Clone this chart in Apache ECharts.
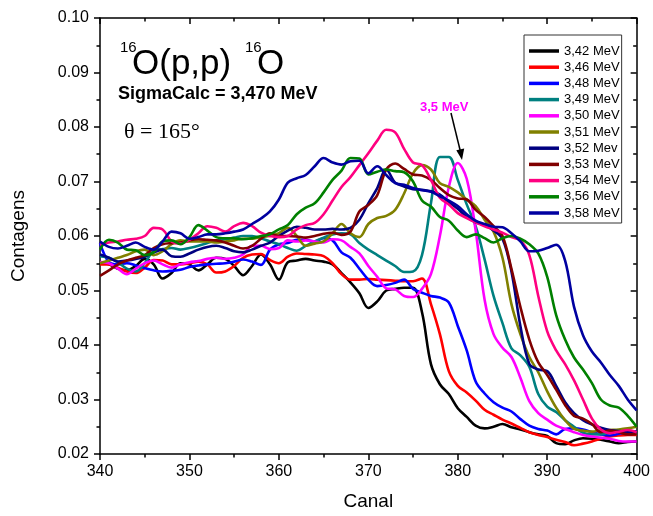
<!DOCTYPE html>
<html>
<head>
<meta charset="utf-8">
<script src="https://cdn.jsdelivr.net/npm/echarts@6/dist/echarts.min.js"></script>
<style>
html,body{margin:0;padding:0;background:#fff;}
#chart{width:653px;height:516px;}
</style>
</head>
<body>
<div id="chart"></div>
<script>
var channels = [340,341,342,343,344,345,346,347,348,349,350,351,352,353,354,355,356,357,358,359,360,361,362,363,364,365,366,367,368,369,370,371,372,373,374,375,376,377,378,379,380,381,382,383,384,385,386,387,388,389,390,391,392,393,394,395,396,397,398,399,400];

var s342 = [0.0552,0.0548,0.0540,0.0537,0.0545,0.0558,0.0548,0.0522,0.0532,0.0550,
0.0548,0.0537,0.0548,0.0560,0.0558,0.0545,0.0528,0.0545,0.0566,0.0548,
0.0520,0.0552,0.0555,0.0558,0.0555,0.0553,0.0548,0.0532,0.0515,0.0495,
0.0468,0.0480,0.0500,0.0503,0.0505,0.0505,0.0460,0.0365,0.0328,0.0310,
0.0284,0.0268,0.0252,0.0247,0.0250,0.0255,0.0249,0.0245,0.0240,0.0236,
0.0233,0.0220,0.0218,0.0225,0.0229,0.0228,0.0226,0.0223,0.0220,0.0222,0.0223];

var s346 = [0.0548,0.0548,0.0542,0.0535,0.0532,0.0542,0.0556,0.0555,0.0548,0.0548,
0.0550,0.0553,0.0548,0.0533,0.0535,0.0545,0.0560,0.0566,0.0567,0.0556,
0.0550,0.0562,0.0568,0.0567,0.0566,0.0563,0.0550,0.0530,0.0520,0.0520,
0.0521,0.0520,0.0519,0.0518,0.0517,0.0517,0.0522,0.0475,0.0420,0.0352,
0.0325,0.0313,0.0298,0.0281,0.0272,0.0263,0.0256,0.0248,0.0240,0.0235,
0.0231,0.0226,0.0222,0.0216,0.0219,0.0223,0.0228,0.0232,0.0234,0.0235,0.0235];

var s348 = [0.0587,0.0552,0.0548,0.0550,0.0546,0.0541,0.0537,0.0535,0.0536,0.0538,
0.0543,0.0546,0.0548,0.0549,0.0550,0.0553,0.0557,0.0553,0.0547,0.0575,
0.0585,0.0587,0.0593,0.0593,0.0590,0.0596,0.0592,0.0570,0.0560,0.0540,
0.0520,0.0508,0.0510,0.0514,0.0520,0.0503,0.0496,0.0490,0.0487,0.0478,
0.0435,0.0390,0.0333,0.0311,0.0295,0.0285,0.0278,0.0264,0.0252,0.0246,
0.0243,0.0236,0.0246,0.0247,0.0245,0.0240,0.0236,0.0234,0.0237,0.0240,0.0241];

var s349 = [0.0563,0.0560,0.0552,0.0540,0.0535,0.0550,0.0573,0.0576,0.0578,0.0575,
0.0578,0.0582,0.0587,0.0592,0.0594,0.0597,0.0600,0.0600,0.0596,0.0590,
0.0585,0.0578,0.0573,0.0582,0.0590,0.0597,0.0603,0.0605,0.0603,0.0587,
0.0575,0.0565,0.0555,0.0545,0.0534,0.0535,0.0565,0.0660,0.0745,0.0745,
0.0703,0.0658,0.0618,0.0557,0.0490,0.0440,0.0394,0.0381,0.0360,0.0310,
0.0287,0.0277,0.0262,0.0250,0.0239,0.0236,0.0236,0.0240,0.0242,0.0240,0.0238];

var s350 = [0.0552,0.0550,0.0540,0.0530,0.0540,0.0550,0.0555,0.0548,0.0542,0.0548,
0.0552,0.0554,0.0558,0.0560,0.0558,0.0560,0.0566,0.0582,0.0582,0.0576,
0.0578,0.0592,0.0590,0.0592,0.0590,0.0588,0.0594,0.0592,0.0580,0.0568,
0.0545,0.0525,0.0504,0.0502,0.0490,0.0488,0.0503,0.0530,0.0600,0.0690,
0.0734,0.0705,0.0610,0.0483,0.0420,0.0395,0.0378,0.0340,0.0297,0.0275,
0.0263,0.0252,0.0246,0.0240,0.0235,0.0232,0.0230,0.0228,0.0224,0.0223,0.0223];

var s351 = [0.0550,0.0555,0.0560,0.0565,0.0572,0.0575,0.0565,0.0572,0.0585,0.0592,
0.0590,0.0590,0.0590,0.0588,0.0590,0.0592,0.0595,0.0595,0.0598,0.0600,
0.0605,0.0615,0.0600,0.0582,0.0586,0.0590,0.0605,0.0622,0.0605,0.0598,
0.0622,0.0633,0.0637,0.0648,0.0678,0.0715,0.0730,0.0722,0.0697,0.0690,
0.0680,0.0667,0.0655,0.0630,0.0608,0.0560,0.0475,0.0420,0.0378,0.0350,
0.0315,0.0285,0.0262,0.0246,0.0243,0.0241,0.0243,0.0244,0.0245,0.0247,0.0250];

var s352 = [0.0566,0.0560,0.0553,0.0555,0.0558,0.0562,0.0570,0.0575,0.0563,0.0562,
0.0568,0.0575,0.0580,0.0582,0.0578,0.0572,0.0570,0.0575,0.0582,0.0588,
0.0600,0.0610,0.0617,0.0615,0.0612,0.0612,0.0613,0.0612,0.0615,0.0630,
0.0660,0.0688,0.0722,0.0698,0.0691,0.0686,0.0685,0.0682,0.0676,0.0662,
0.0650,0.0635,0.0625,0.0620,0.0610,0.0595,0.0535,0.0435,0.0365,0.0355,
0.0352,0.0325,0.0295,0.0275,0.0262,0.0254,0.0248,0.0244,0.0242,0.0241,0.0241];

var s353 = [0.0527,0.0537,0.0548,0.0555,0.0560,0.0565,0.0578,0.0585,0.0587,0.0588,
0.0592,0.0594,0.0593,0.0592,0.0588,0.0582,0.0577,0.0582,0.0595,0.0605,
0.0600,0.0600,0.0599,0.0597,0.0600,0.0604,0.0606,0.0602,0.0608,0.0645,
0.0657,0.0675,0.0722,0.0733,0.0723,0.0713,0.0711,0.0703,0.0688,0.0675,
0.0669,0.0667,0.0648,0.0635,0.0618,0.0600,0.0540,0.0470,0.0410,0.0368,
0.0345,0.0318,0.0290,0.0270,0.0265,0.0255,0.0240,0.0243,0.0240,0.0236,0.0237];

var s354 = [0.0584,0.0588,0.0590,0.0593,0.0595,0.0600,0.0615,0.0612,0.0590,0.0586,
0.0593,0.0605,0.0618,0.0615,0.0608,0.0618,0.0624,0.0618,0.0606,0.0600,
0.0598,0.0600,0.0612,0.0620,0.0624,0.0640,0.0665,0.0690,0.0708,0.0730,
0.0752,0.0775,0.0795,0.0790,0.0760,0.0735,0.0730,0.0703,0.0670,0.0658,
0.0642,0.0633,0.0625,0.0618,0.0612,0.0606,0.0598,0.0592,0.0565,0.0490,
0.0425,0.0390,0.0365,0.0335,0.0300,0.0265,0.0245,0.0238,0.0241,0.0244,0.0240];

var s356 = [0.0575,0.0593,0.0588,0.0575,0.0574,0.0565,0.0570,0.0590,0.0592,0.0585,
0.0598,0.0620,0.0610,0.0598,0.0596,0.0596,0.0594,0.0596,0.0600,0.0603,
0.0612,0.0620,0.0640,0.0652,0.0660,0.0680,0.0703,0.0720,0.0743,0.0742,
0.0713,0.0718,0.0722,0.0719,0.0717,0.0700,0.0665,0.0654,0.0635,0.0628,
0.0610,0.0598,0.0603,0.0596,0.0588,0.0596,0.0600,0.0595,0.0585,0.0568,
0.0525,0.0455,0.0410,0.0377,0.0355,0.0330,0.0300,0.0289,0.0285,0.0270,0.0250];

var s358 = [0.0590,0.0580,0.0577,0.0582,0.0588,0.0580,0.0575,0.0590,0.0608,0.0605,
0.0595,0.0598,0.0603,0.0603,0.0605,0.0608,0.0612,0.0622,0.0632,0.0645,
0.0667,0.0698,0.0706,0.0712,0.0728,0.0743,0.0735,0.0731,0.0737,0.0738,
0.0715,0.0728,0.0712,0.0697,0.0694,0.0688,0.0684,0.0681,0.0673,0.0665,
0.0655,0.0640,0.0628,0.0622,0.0617,0.0616,0.0605,0.0590,0.0572,0.0573,
0.0578,0.0584,0.0555,0.0470,0.0418,0.0388,0.0368,0.0345,0.0325,0.0300,0.0280];

var seriesNames = ['3,42 MeV','3,46 MeV','3,48 MeV','3,49 MeV','3,50 MeV','3,51 MeV','3,52 Mev','3,53 MeV','3,54 MeV','3,56 MeV','3,58 MeV'];
var seriesValues = [s342,s346,s348,s349,s350,s351,s352,s353,s354,s356,s358];
var seriesColors = ['#000000','#FF0000','#0000FF','#008080','#FF00FF','#808000','#000080','#800000','#FF0080','#008000','#0000A0'];

var xTicks = [340,350,360,370,380,390,400];
var yTicks = [0.02,0.03,0.04,0.05,0.06,0.07,0.08,0.09,0.10];

var FONT = '"Liberation Sans", Arial, sans-serif';

var chart = echarts.init(document.getElementById('chart'), null, {renderer:'canvas'});

var series = seriesNames.map(function(name, i){
  return {
    name: name,
    type: 'line',
    xAxisIndex: 0,
    yAxisIndex: 0,
    showSymbol: false,
    symbol: 'none',
    smooth: 0.35,
    lineStyle: {width: 2.6, color: seriesColors[i]},
    itemStyle: {color: seriesColors[i]},
    emphasis: {disabled: true},
    data: channels.map(function(c, j){ return [c, seriesValues[i][j]]; })
  };
});

var axisLineStyle = {color:'#000', width:1.5};

var option = {
  animation: false,
  backgroundColor: '#fff',
  grid: {left:100, right:13, top:18, bottom:62, containLabel:false},
  legend: {
    orient: 'vertical',
    left: 524,
    top: 35,
    padding: [9, 2, 3, 5],
    itemGap: 2.2,
    itemWidth: 30,
    itemHeight: 3.5,
    icon: 'rect',
    backgroundColor: '#fff',
    borderColor: '#333',
    borderWidth: 1,
    borderRadius: 0,
    selectedMode: false,
    textStyle: {fontFamily: FONT, fontSize: 13, color:'#000', lineHeight: 14},
    data: seriesNames
  },
  xAxis: [{
    type: 'value', min: xTicks[0], max: xTicks[xTicks.length-1], interval: 10,
    position: 'bottom',
    name: 'Canal', nameLocation: 'middle', nameGap: 38,
    nameTextStyle: {fontFamily: FONT, fontSize: 19, color:'#000'},
    axisLine: {show:true, onZero:false, lineStyle: axisLineStyle},
    axisTick: {show:true, inside:false, length:6, lineStyle: axisLineStyle},
    minorTick: {show:true, splitNumber:2, length:3.5, lineStyle: axisLineStyle},
    axisLabel: {fontFamily: FONT, fontSize: 16, color:'#000', margin: 10},
    splitLine: {show:false}
  },{
    type: 'value', min: xTicks[0], max: xTicks[xTicks.length-1], interval: 10,
    position: 'top',
    axisLine: {show:true, onZero:false, lineStyle: axisLineStyle},
    axisTick: {show:true, inside:true, length:6, lineStyle: axisLineStyle},
    minorTick: {show:true, splitNumber:2, length:3.5, lineStyle: axisLineStyle},
    axisLabel: {show:false},
    splitLine: {show:false}
  }],
  yAxis: [{
    type: 'value', min: yTicks[0], max: yTicks[yTicks.length-1], interval: 0.01,
    position: 'left',
    name: 'Contagens', nameLocation: 'middle', nameGap: 72,
    nameTextStyle: {fontFamily: FONT, fontSize: 19, color:'#000'},
    axisLine: {show:true, onZero:false, lineStyle: axisLineStyle},
    axisTick: {show:true, inside:false, length:6, lineStyle: axisLineStyle},
    minorTick: {show:true, splitNumber:2, length:3.5, lineStyle: axisLineStyle},
    axisLabel: {fontFamily: FONT, fontSize: 16, color:'#000', margin: 11,
      formatter: function(v){ return v.toFixed(2); }},
    splitLine: {show:false}
  },{
    type: 'value', min: yTicks[0], max: yTicks[yTicks.length-1], interval: 0.01,
    position: 'right',
    axisLine: {show:true, onZero:false, lineStyle: axisLineStyle},
    axisTick: {show:true, inside:true, length:6, lineStyle: axisLineStyle},
    minorTick: {show:true, splitNumber:2, length:3.5, lineStyle: axisLineStyle},
    axisLabel: {show:false},
    splitLine: {show:false}
  }],
  graphic: [
    {type:'text', left:120, top:40, z:100, style:{text:'16', font:'15px ' + FONT, fill:'#000'}},
    {type:'text', left:132, top:47, z:100, style:{text:'O(p,p)', font:'35px ' + FONT, fill:'#000'}},
    {type:'text', left:245, top:40, z:100, style:{text:'16', font:'15px ' + FONT, fill:'#000'}},
    {type:'text', left:257, top:47, z:100, style:{text:'O', font:'35px ' + FONT, fill:'#000'}},
    {type:'text', left:118, top:85, z:100, style:{text:'SigmaCalc = 3,470 MeV', font:'bold 18px ' + FONT, fill:'#000'}},
    {type:'text', left:124, top:121, z:100, style:{text:'\u03B8 = 165\u00B0', font:'22px "Liberation Serif", "Times New Roman", serif', fill:'#000'}},
    {type:'text', left:420, top:101, z:100, style:{text:'3,5 MeV', font:'bold 13px ' + FONT, fill:'#FF00FF'}},
    {type:'line', z:100, shape:{x1:451, y1:113, x2:460.3, y2:151}, style:{stroke:'#000', lineWidth:1.5}},
    {type:'polygon', z:100, shape:{points:[[462,160],[456.3,150.2],[464.2,148.6]]}, style:{fill:'#000'}}
  ],
  series: series
};

chart.setOption(option);
</script>
</body>
</html>
